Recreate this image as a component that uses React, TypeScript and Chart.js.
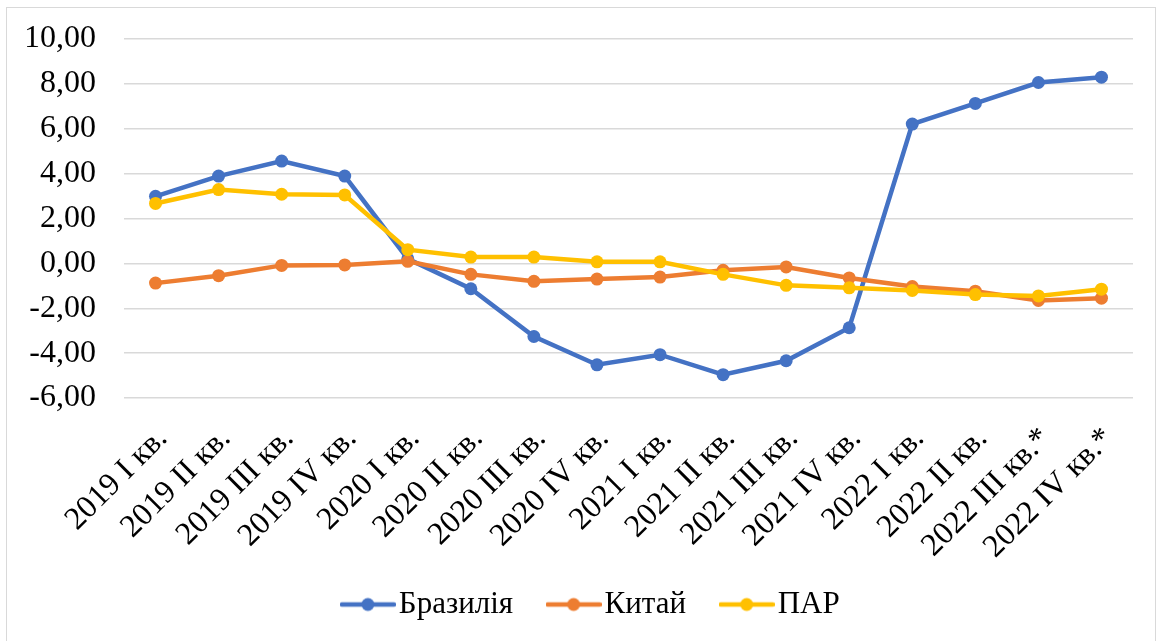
import React, { useEffect, useRef } from "react";
import { Chart, registerables } from "chart.js";

Chart.register(...registerables);

const categories = [
  "2019 I кв.",
  "2019 II кв.",
  "2019 III кв.",
  "2019 IV кв.",
  "2020 I кв.",
  "2020 II кв.",
  "2020 III кв.",
  "2020 IV кв.",
  "2021 I кв.",
  "2021 II кв.",
  "2021 III кв.",
  "2021 IV кв.",
  "2022 I кв.",
  "2022 II кв.",
  "2022 III кв.*",
  "2022 IV кв.*",
];

const brazil = [2.99, 3.89, 4.56, 3.89, 0.2, -1.13, -3.26, -4.52, -4.07, -4.96, -4.34, -2.87, 6.21, 7.13, 8.06, 8.3];
const china = [-0.88, -0.55, -0.09, -0.07, 0.09, -0.49, -0.8, -0.7, -0.61, -0.31, -0.16, -0.65, -1.03, -1.24, -1.65, -1.55];
const sar = [2.67, 3.29, 3.08, 3.05, 0.61, 0.28, 0.28, 0.07, 0.07, -0.49, -0.98, -1.09, -1.21, -1.39, -1.45, -1.15];

const seriesNames = ["Бразилія", "Китай", "ПАР"];
const seriesColors = ["#4472C4", "#ED7D31", "#FFC000"];

const yMin = -6;
const yMax = 10;
const yStep = 2;

const FONT = "'Liberation Serif', 'Times New Roman', serif";

function makeLegendMarker(color: string): HTMLCanvasElement {
  const c = document.createElement("canvas");
  c.width = 56;
  c.height = 16;
  const ctx = c.getContext("2d")!;
  ctx.strokeStyle = color;
  ctx.lineWidth = 4.5;
  ctx.lineCap = "round";
  ctx.beginPath();
  ctx.moveTo(2, 8);
  ctx.lineTo(54, 8);
  ctx.stroke();
  ctx.fillStyle = color;
  ctx.beginPath();
  ctx.arc(28, 8, 6.5, 0, Math.PI * 2);
  ctx.fill();
  return c;
}

const layoutTweak = {
  id: "layoutTweak",
  afterLayout(chart: any) {
    const l = chart.legend;
    if (l) {
      l.left += 16;
      l.right += 16;
    }
    const x = chart.scales.x;
    if (x) {
      // let the rotated labels run past the axis box without being clipped
      x.bottom = chart.height;
    }
  },
};

export default function App() {
  const ref = useRef<HTMLCanvasElement | null>(null);

  useEffect(() => {
    if (!ref.current) return;
    const values = [brazil, china, sar];
    const markers = seriesColors.map(makeLegendMarker);
    const chart = new Chart(ref.current, {
      type: "line",
      plugins: [layoutTweak],
      data: {
        labels: categories,
        datasets: values.map((v, i) => ({
          label: seriesNames[i],
          data: v,
          borderColor: seriesColors[i],
          backgroundColor: seriesColors[i],
          pointBackgroundColor: seriesColors[i],
          pointBorderColor: seriesColors[i],
          pointStyle: "circle",
          pointRadius: 6.5,
          pointBorderWidth: 0,
          borderWidth: 4.5,
          tension: 0,
          order: 3 - i,
        })),
      },
      options: {
        animation: false,
        responsive: false,
        maintainAspectRatio: false,
        layout: { padding: { left: 27, right: 30, top: 39, bottom: 11 } },
        plugins: {
          tooltip: { enabled: false },
          legend: {
            position: "bottom",
            labels: {
              usePointStyle: true,
              pointStyleWidth: 31,
              padding: 45,
              color: "#000",
              font: { family: FONT, size: 31 },
              sort: (a: any, b: any) => a.datasetIndex - b.datasetIndex,
              generateLabels: (chart: any) =>
                chart.data.datasets.map((ds: any, i: number) => ({
                  text: ds.label,
                  fillStyle: seriesColors[i],
                  strokeStyle: seriesColors[i],
                  lineWidth: 0,
                  pointStyle: markers[i],
                  datasetIndex: i,
                  hidden: false,
                  fontColor: "#000",
                })),
            },
          },
        },
        scales: {
          x: {
            offset: true,
            grid: { display: false, offset: true },
            border: { display: false },
            afterFit: (scale: any) => {
              scale.paddingLeft = 0;
              scale.paddingRight = 0;
              scale.height = 146;
            },
            ticks: {
              autoSkip: false,
              maxRotation: 45,
              minRotation: 45,
              padding: 14,
              labelOffset: 7,
              color: "#000",
              font: { family: FONT, size: 32 },
            },
          },
          y: {
            min: yMin,
            max: yMax,
            border: { display: false },
            grid: { color: "#d9d9d9", lineWidth: 1.5, drawTicks: false },
            afterFit: (scale: any) => {
              scale.width = 97;
              scale.paddingTop = 0;
              scale.paddingBottom = 0;
            },
            ticks: {
              stepSize: yStep,
              padding: 28,
              color: "#000",
              font: { family: FONT, size: 32 },
              callback: (v: any) => Number(v).toFixed(2).replace(".", ","),
            },
          },
        },
      },
    });
    return () => chart.destroy();
  }, []);

  return (
    <div style={{ position: "absolute", left: 0, top: 0, width: 1163, height: 641, background: "#fff" }}>
      <canvas ref={ref} width={1163} height={641} style={{ position: "absolute", left: 0, top: 0 }} />
      <div
        style={{
          position: "absolute",
          left: 6,
          top: 7,
          width: 1150,
          height: 640,
          border: "1.5px solid #d9d9d9",
          boxSizing: "border-box",
          pointerEvents: "none",
        }}
      />
    </div>
  );
}
